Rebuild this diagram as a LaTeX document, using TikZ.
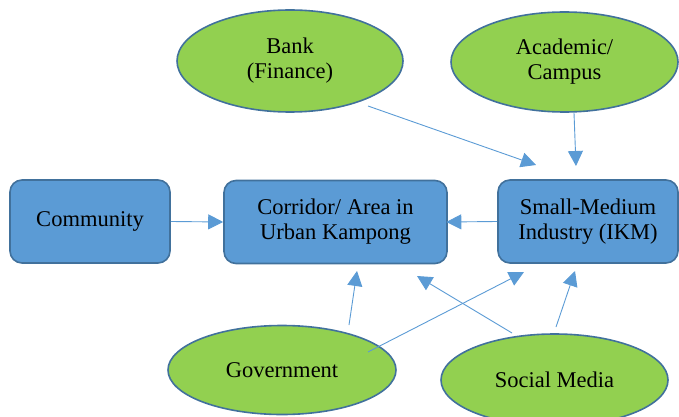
\documentclass[tikz,border=0pt]{standalone}
\usepackage{fontspec}
\setmainfont{Liberation Serif}
\usetikzlibrary{arrows.meta}
\definecolor{boxblue}{HTML}{5B9BD5}
\definecolor{edgeblue}{HTML}{41719C}
\definecolor{ellgreen}{HTML}{92D050}
\tikzset{
  blockbox/.style={draw=edgeblue, fill=boxblue, line width=1.6pt, rounded corners=12pt,
    minimum width=#1, minimum height=83pt, align=center, inner sep=0pt,
    font=\fontsize{22.5}{25}\selectfont},
  actor/.style={draw=edgeblue, fill=ellgreen, line width=1.6pt, ellipse, align=center,
    inner sep=0pt, font=\fontsize{22.5}{25}\selectfont},
  link/.style={draw=boxblue, line width=0.9pt, -{Triangle[length=15pt,width=15pt]}}
}
\usetikzlibrary{shapes.geometric}
\begin{document}
\begin{tikzpicture}[x=1pt,y=-1pt]
\useasboundingbox (0,0) rectangle (679,417);
\node[blockbox=160pt] (comm) at (90,221.5) {Community};
\node[blockbox=223pt] (corr) at (335.5,222) {Corridor/ Area in\\Urban Kampong};
\node[blockbox=180pt] (ikm) at (588,221.5) {Small-Medium\\Industry (IKM)};
\node[actor, minimum width=226pt, minimum height=102pt] (bank) at (290,61) {Bank\\(Finance)};
\node[actor, minimum width=227pt, minimum height=100pt] (acad) at (564.5,62) {Academic/\\Campus};
\node[actor, minimum width=228pt, minimum height=89pt] (gov) at (282,370) {Government};
\node[actor, minimum width=227pt, minimum height=92pt] (soc) at (554.5,380) {Social Media};
% connector end points
\coordinate (bankS) at (368,106);
\coordinate (bankT) at (536,165);
\coordinate (acadS) at (574,113);
\coordinate (acadT) at (576,166);
\coordinate (govS1) at (349,325);
\coordinate (govT1) at (357,271);
\coordinate (govS2) at (368,352);
\coordinate (govT2) at (524,272);
\coordinate (socS1) at (512,333);
\coordinate (socT1) at (417,276);
\coordinate (socS2) at (556,327);
\coordinate (socT2) at (575,271);
\draw[link] (comm.east) -- (corr.west);
\draw[link] (ikm.west) -- ([xshift=-1.5pt]corr.east);
\draw[link] (bankS) -- (bankT);
\draw[link] (acadS) -- (acadT);
\draw[link] (govS1) -- (govT1);
\draw[link] (govS2) -- (govT2);
\draw[link] (socS1) -- (socT1);
\draw[link] (socS2) -- (socT2);
\end{tikzpicture}
\end{document}
